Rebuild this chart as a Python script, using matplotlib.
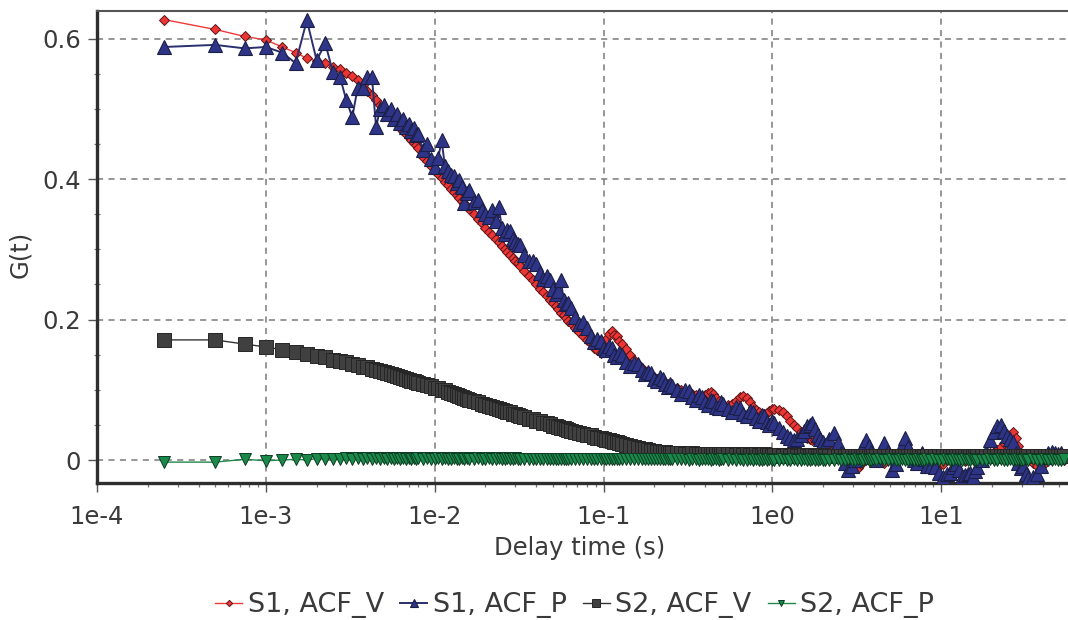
"""Autocorrelation curves G(t) for two samples, V and P channels."""

import matplotlib
matplotlib.use("Agg")
import matplotlib.pyplot as plt
from matplotlib.ticker import LogLocator, MultipleLocator, NullFormatter

# delay times of the correlator channels (ms), one row per block
delay_ms = [
    0.25, 0.5, 0.75, 1.0, 1.25, 1.5, 1.75, 2.0, 2.25, 2.5, 2.75, 3.0, 3.25, 3.5, 3.75, 4.0,
    4.25, 4.5, 4.75, 5.0, 5.25, 5.5, 5.75, 6.0, 6.25, 6.5, 6.75, 7.0, 7.25, 7.5, 7.75, 8.0,
    8.5, 9, 9.5, 10, 10.5, 11, 11.5, 12, 12.5, 13, 13.5, 14, 14.5, 15, 15.5, 16,
    17, 18, 19, 20, 21, 22, 23, 24, 25, 26, 27, 28, 29, 30, 31, 32,
    34, 36, 38, 40, 42, 44, 46, 48, 50, 52, 54, 56, 58, 60, 62, 64,
    68, 72, 76, 80, 84, 88, 92, 96, 100, 104, 108, 112, 116, 120, 124, 128,
    136, 144, 152, 160, 168, 176, 184, 192, 200, 208, 216, 224, 232, 240, 248, 256,
    272, 288, 304, 320, 336, 352, 368, 384, 400, 416, 432, 448, 464, 480, 496, 512,
    544, 576, 608, 640, 672, 704, 736, 768, 800, 832, 864, 896, 928, 960, 992, 1024,
    1088, 1152, 1216, 1280, 1344, 1408, 1472, 1536, 1600, 1664, 1728, 1792, 1856, 1920, 1984, 2048,
    2176, 2304, 2432, 2560, 2688, 2816, 2944, 3072, 3200, 3328, 3456, 3584, 3712, 3840, 3968, 4096,
    4352, 4608, 4864, 5120, 5376, 5632, 5888, 6144, 6400, 6656, 6912, 7168, 7424, 7680, 7936, 8192,
    8704, 9216, 9728, 10240, 10752, 11264, 11776, 12288, 12800, 13312, 13824, 14336, 14848, 15360, 15872, 16384,
    17408, 18432, 19456, 20480, 21504, 22528, 23552, 24576, 25600, 26624, 27648, 28672, 29696, 30720, 31744, 32768,
    34816, 36864, 38912, 40960, 43008, 45056, 47104, 49152, 51200, 53248,
]

s1_acf_v = [
    0.627, 0.613, 0.603, 0.598, 0.588, 0.580, 0.572, 0.568, 0.565, 0.560, 0.556, 0.551, 0.546, 0.541, 0.534, 0.526,
    0.519, 0.512, 0.506, 0.500, 0.494, 0.488, 0.483, 0.478, 0.473, 0.469, 0.464, 0.460, 0.456, 0.452, 0.448, 0.444,
    0.432, 0.425, 0.418, 0.412, 0.407, 0.401, 0.396, 0.391, 0.386, 0.381, 0.377, 0.373, 0.369, 0.365, 0.361, 0.357,
    0.350, 0.343, 0.337, 0.331, 0.325, 0.320, 0.314, 0.310, 0.305, 0.300, 0.296, 0.292, 0.288, 0.284, 0.280, 0.276,
    0.269, 0.262, 0.256, 0.250, 0.244, 0.239, 0.233, 0.228, 0.224, 0.219, 0.215, 0.210, 0.206, 0.202, 0.198, 0.195,
    0.188, 0.182, 0.176, 0.171, 0.166, 0.160, 0.156, 0.152, 0.160, 0.172, 0.180, 0.184, 0.178, 0.176, 0.170, 0.165,
    0.158, 0.150, 0.142, 0.136, 0.131, 0.126, 0.123, 0.120, 0.118, 0.116, 0.114, 0.112, 0.110, 0.108, 0.106, 0.104,
    0.102, 0.100, 0.098, 0.096, 0.094, 0.092, 0.091, 0.090, 0.092, 0.095, 0.097, 0.094, 0.088, 0.084, 0.080, 0.078,
    0.078, 0.080, 0.084, 0.089, 0.091, 0.088, 0.082, 0.076, 0.071, 0.068, 0.066, 0.065, 0.067, 0.070, 0.073, 0.072,
    0.071, 0.069, 0.062, 0.055, 0.050, 0.045, 0.040, 0.035, 0.032, 0.030, 0.029, 0.028, 0.026, 0.024, 0.022, 0.020,
    0.017, 0.015, 0.010, 0.006, 0.002, -0.004, -0.008, -0.010, -0.012, -0.006, -0.002, 0.002, 0.005, 0.006, 0.005, 0.004,
    -0.002, -0.004, 0.000, 0.002, 0.005, 0.008, 0.006, 0.004, 0.000, -0.002, -0.001, 0.000, -0.003, -0.004, -0.001, 0.002,
    -0.004, -0.006, -0.008, -0.006, 0.000, 0.002, -0.004, -0.003, 0.004, 0.002, -0.002, 0.001, 0.006, 0.004, 0.002, 0.003,
    0.005, 0.008, 0.010, 0.012, 0.014, 0.018, 0.024, 0.030, 0.036, 0.040, 0.032, 0.020, 0.010, 0.006, 0.002, 0.000,
    -0.004, -0.008, -0.006, -0.004, 0.000, 0.002, 0.004, 0.004, 0.002, 0.000,
]

s1_acf_p = [
    0.588, 0.591, 0.586, 0.588, 0.580, 0.565, 0.626, 0.569, 0.593, 0.552, 0.545, 0.512, 0.488, 0.530, 0.530, 0.545,
    0.545, 0.474, 0.500, 0.505, 0.492, 0.500, 0.486, 0.492, 0.480, 0.486, 0.474, 0.478, 0.468, 0.472, 0.462, 0.464,
    0.441, 0.450, 0.428, 0.417, 0.430, 0.455, 0.418, 0.412, 0.406, 0.404, 0.394, 0.398, 0.388, 0.366, 0.380, 0.384,
    0.368, 0.370, 0.356, 0.350, 0.346, 0.356, 0.340, 0.360, 0.330, 0.322, 0.328, 0.326, 0.314, 0.310, 0.308, 0.306,
    0.292, 0.284, 0.284, 0.279, 0.266, 0.258, 0.262, 0.256, 0.244, 0.236, 0.240, 0.256, 0.228, 0.222, 0.224, 0.216,
    0.204, 0.194, 0.196, 0.188, 0.176, 0.168, 0.172, 0.170, 0.160, 0.156, 0.162, 0.160, 0.150, 0.146, 0.152, 0.150,
    0.140, 0.134, 0.138, 0.136, 0.128, 0.122, 0.126, 0.124, 0.116, 0.112, 0.118, 0.116, 0.108, 0.104, 0.108, 0.106,
    0.100, 0.094, 0.099, 0.098, 0.090, 0.086, 0.092, 0.090, 0.082, 0.078, 0.086, 0.084, 0.076, 0.074, 0.082, 0.080,
    0.072, 0.068, 0.076, 0.074, 0.066, 0.062, 0.070, 0.068, 0.060, 0.056, 0.064, 0.062, 0.054, 0.050, 0.055, 0.052,
    0.046, 0.040, 0.034, 0.032, 0.028, 0.030, 0.036, 0.042, 0.048, 0.050, 0.052, 0.044, 0.036, 0.030, 0.026, 0.022,
    0.030, 0.038, 0.024, 0.010, -0.004, -0.014, -0.008, 0.000, 0.006, 0.010, 0.020, 0.028, 0.020, 0.012, 0.004, 0.000,
    0.010, 0.024, 0.012, -0.014, -0.006, 0.010, 0.020, 0.031, 0.018, 0.006, 0.000, -0.004, 0.004, 0.010, 0.002, -0.008,
    -0.008, -0.010, -0.018, -0.024, -0.020, -0.018, -0.010, -0.006, -0.014, -0.024, -0.022, -0.020, -0.018, -0.024, -0.016, -0.010,
    0.000, 0.012, 0.028, 0.040, 0.048, 0.050, 0.042, 0.034, 0.030, 0.026, 0.010, -0.004, -0.012, -0.008, -0.020, -0.026,
    -0.024, -0.020, -0.008, 0.004, 0.010, 0.012, 0.010, 0.008, 0.010, 0.006,
]

s2_acf_v = [
    0.171, 0.171, 0.165, 0.161, 0.157, 0.154, 0.151, 0.148, 0.146, 0.143, 0.141, 0.139, 0.137, 0.135, 0.133, 0.132,
    0.130, 0.128, 0.127, 0.125, 0.124, 0.122, 0.121, 0.119, 0.118, 0.117, 0.115, 0.114, 0.113, 0.112, 0.111, 0.110,
    0.108, 0.107, 0.105, 0.103, 0.102, 0.100, 0.099, 0.097, 0.096, 0.094, 0.093, 0.091, 0.090, 0.088, 0.087, 0.086,
    0.084, 0.082, 0.080, 0.079, 0.077, 0.076, 0.074, 0.072, 0.071, 0.070, 0.069, 0.068, 0.066, 0.065, 0.064, 0.063,
    0.061, 0.059, 0.058, 0.056, 0.055, 0.053, 0.052, 0.051, 0.049, 0.048, 0.047, 0.046, 0.045, 0.044, 0.043, 0.042,
    0.040, 0.039, 0.037, 0.036, 0.035, 0.033, 0.032, 0.031, 0.030, 0.029, 0.028, 0.027, 0.026, 0.025, 0.024, 0.023,
    0.021, 0.020, 0.018, 0.017, 0.016, 0.015, 0.014, 0.013, 0.013, 0.012, 0.012, 0.011, 0.011, 0.010, 0.010, 0.010,
    0.010, 0.010, 0.009, 0.009, 0.010, 0.009, 0.009, 0.008, 0.009, 0.009, 0.008, 0.009, 0.008, 0.008, 0.009, 0.008,
    0.008, 0.008, 0.007, 0.008, 0.007, 0.008, 0.007, 0.007, 0.008, 0.007, 0.007, 0.008, 0.007, 0.007, 0.006, 0.007,
    0.007, 0.006, 0.007, 0.006, 0.007, 0.006, 0.006, 0.007, 0.006, 0.006, 0.007, 0.006, 0.006, 0.006, 0.007, 0.006,
    0.006, 0.006, 0.005, 0.006, 0.006, 0.005, 0.006, 0.005, 0.006, 0.006, 0.005, 0.006, 0.005, 0.006, 0.006, 0.005,
    0.006, 0.005, 0.005, 0.006, 0.005, 0.006, 0.005, 0.005, 0.006, 0.005, 0.005, 0.006, 0.005, 0.006, 0.005, 0.005,
    0.005, 0.006, 0.005, 0.005, 0.006, 0.005, 0.006, 0.005, 0.005, 0.006, 0.005, 0.005, 0.006, 0.005, 0.005, 0.006,
    0.005, 0.006, 0.006, 0.005, 0.006, 0.005, 0.005, 0.006, 0.005, 0.006, 0.005, 0.005, 0.006, 0.005, 0.006, 0.005,
    0.005, 0.006, 0.005, 0.005, 0.006, 0.005, 0.006, 0.005, 0.005, 0.006,
]

s2_acf_p = [
    -0.003, -0.003, 0.001, -0.001, 0.000, 0.001, 0.000, 0.002, 0.001, 0.002, 0.001, 0.003, 0.002, 0.003, 0.002, 0.003,
    0.002, 0.003, 0.002, 0.003, 0.002, 0.003, 0.002, 0.003, 0.002, 0.003, 0.002, 0.003, 0.002, 0.003, 0.002, 0.003,
    0.002, 0.003, 0.002, 0.002, 0.003, 0.002, 0.003, 0.002, 0.002, 0.003, 0.002, 0.002, 0.003, 0.002, 0.003, 0.002,
    0.002, 0.003, 0.002, 0.002, 0.003, 0.002, 0.002, 0.003, 0.002, 0.002, 0.003, 0.002, 0.002, 0.003, 0.002, 0.002,
    0.002, 0.002, 0.001, 0.002, 0.002, 0.001, 0.002, 0.002, 0.002, 0.001, 0.002, 0.002, 0.001, 0.002, 0.002, 0.001,
    0.001, 0.002, 0.001, 0.002, 0.001, 0.001, 0.002, 0.001, 0.002, 0.001, 0.001, 0.002, 0.001, 0.001, 0.002, 0.001,
    0.001, 0.001, 0.002, 0.001, 0.001, 0.001, 0.001, 0.002, 0.001, 0.001, 0.001, 0.001, 0.002, 0.001, 0.001, 0.001,
    0.001, 0.001, 0.001, 0.000, 0.001, 0.001, 0.000, 0.001, 0.001, 0.001, 0.000, 0.001, 0.001, 0.000, 0.001, 0.001,
    0.000, 0.001, 0.000, 0.001, 0.000, 0.000, 0.001, 0.000, 0.001, 0.000, 0.000, 0.001, 0.000, 0.001, 0.000, 0.000,
    0.000, 0.001, 0.000, 0.000, 0.001, 0.000, 0.000, 0.001, 0.000, 0.000, 0.001, 0.000, 0.000, 0.001, 0.000, 0.000,
    0.000, 0.000, 0.001, 0.000, 0.000, 0.001, 0.000, 0.000, 0.001, 0.000, 0.000, 0.001, 0.000, 0.000, 0.001, 0.000,
    0.001, 0.000, 0.000, 0.001, 0.000, 0.000, 0.001, 0.000, 0.000, 0.001, 0.000, 0.000, 0.001, 0.000, 0.000, 0.001,
    0.000, 0.001, 0.000, 0.000, 0.001, 0.000, 0.000, 0.001, 0.000, 0.000, 0.001, 0.000, 0.000, 0.001, 0.000, 0.000,
    0.000, 0.000, 0.001, 0.000, 0.000, 0.001, 0.000, 0.000, 0.001, 0.000, 0.000, 0.001, 0.000, 0.000, 0.001, 0.000,
    0.001, 0.000, 0.000, 0.001, 0.000, 0.000, 0.001, 0.000, 0.000, 0.001,
]

for series in (s1_acf_v, s1_acf_p, s2_acf_v, s2_acf_p):
    assert len(series) == len(delay_ms), (len(series), len(delay_ms))

delay_s = [d / 1000.0 for d in delay_ms]

x_ticks = [1e-4, 1e-3, 1e-2, 1e-1, 1e0, 1e1]
x_tick_labels = ["1e-4", "1e-3", "1e-2", "1e-1", "1e0", "1e1"]
y_ticks = [0, 0.2, 0.4, 0.6]
y_tick_labels = ["0", "0.2", "0.4", "0.6"]

TEXT = "#3a3a3a"
FS = 17.5
plt.rcParams["font.family"] = ["DejaVu Sans"]

fig = plt.figure(figsize=(10.68, 6.2), dpi=100)
ax = fig.add_axes([0.0908, 0.221, 0.9092, 0.761])

ax.plot(delay_s, s1_acf_v, color="#f03a3a", lw=1.0, marker="D", ms=5.3,
        mfc="#ee3535", mec="#5a1515", mew=0.7, label="S1, ACF_V", zorder=3)
ax.plot(delay_s, s1_acf_p, color="#2a2f6e", lw=1.4, marker="^", ms=9.5,
        mfc="#2e3588", mec="#1c1f45", mew=0.8, label="S1, ACF_P", zorder=4)
ax.plot(delay_s, s2_acf_v, color="#333333", lw=1.0, marker="s", ms=10.3,
        mfc="#404040", mec="#262626", mew=0.7, label="S2, ACF_V", zorder=5)
ax.plot(delay_s, s2_acf_p, color="#1f8a4c", lw=1.0, marker="v", ms=8,
        mfc="#1a8a4a", mec="#0e3a22", mew=0.7, label="S2, ACF_P", zorder=6)

ax.set_xscale("log")
ax.set_xlim(1e-4, 10 ** 1.751)
ax.set_ylim(-0.0327, 0.639)

ax.set_xticks(x_ticks)
ax.set_xticklabels(x_tick_labels)
ax.xaxis.set_minor_locator(LogLocator(base=10, subs=range(2, 10), numticks=20))
ax.xaxis.set_minor_formatter(NullFormatter())
ax.set_yticks(y_ticks)
ax.set_yticklabels(y_tick_labels)
ax.yaxis.set_minor_locator(MultipleLocator(0.05))

ax.tick_params(which="major", direction="out", length=6.5, width=1.0, color="#555555",
               labelsize=FS, labelcolor=TEXT)
ax.tick_params(axis="x", which="major", pad=9)
ax.tick_params(axis="y", which="major", pad=5)
ax.tick_params(which="minor", direction="out", length=3, width=0.9, color="#777777")
ax.tick_params(axis="y", which="minor", direction="inout", length=4)

ax.grid(True, which="major", color="#7a7a7a", lw=1.1, ls=(0, (4, 3.5)))
ax.set_axisbelow(True)

for side in ("left", "bottom"):
    ax.spines[side].set_linewidth(2.4)
    ax.spines[side].set_color("#2e2e2e")
ax.spines["top"].set_linewidth(1.5)
ax.spines["top"].set_color("#555555")
ax.spines["right"].set_visible(False)

ax.set_xlabel("Delay time (s)", fontsize=FS, color=TEXT)
ax.xaxis.set_label_coords(0.497, -0.113)
ax.set_ylabel("G(t)", fontsize=FS, color=TEXT)
ax.yaxis.set_label_coords(-0.067, 0.484)

handles, labels = ax.get_legend_handles_labels()
fig.legend(handles, labels, loc="center", bbox_to_anchor=(0.538, 0.024), ncol=4,
           frameon=False, fontsize=19.5, markerscale=0.6, handlelength=1.0,
           handletextpad=0.2, columnspacing=0.6, labelcolor=TEXT)

fig.savefig("out.png", dpi=100)
